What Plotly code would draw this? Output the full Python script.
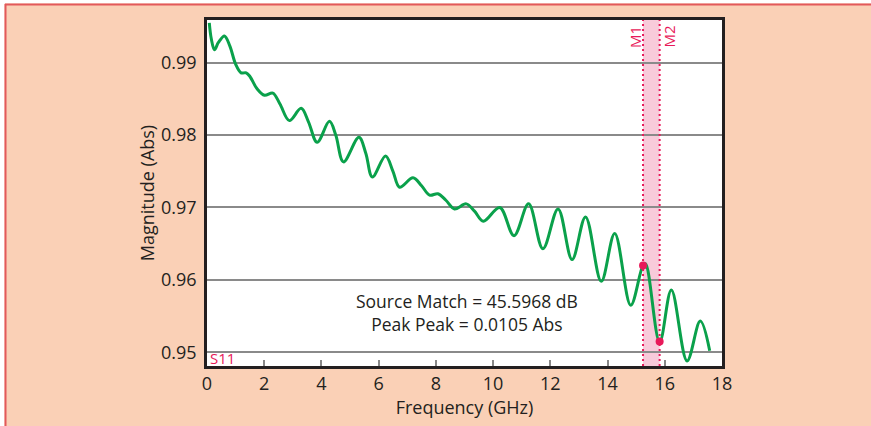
import plotly.graph_objects as go

# Data
freq_ghz = [0.08, 0.15, 0.26, 0.40, 0.61, 0.80, 1.00, 1.19, 1.37, 1.50, 1.75, 2.01, 2.30, 2.55,
            2.88, 3.29, 3.55, 3.85, 4.28, 4.50, 4.77, 5.31, 5.55, 5.78, 6.24, 6.50, 6.73, 7.20,
            7.50, 7.78, 8.07, 8.35, 8.65, 9.06, 9.35, 9.66, 10.23, 10.73, 11.24, 11.74, 12.27,
            12.76, 13.23, 13.78, 14.25, 14.81, 15.24, 15.33, 15.82, 16.23, 16.78, 17.24, 17.57]
magnitude = [0.9955, 0.9933, 0.9918, 0.9928, 0.9937, 0.9923, 0.9898, 0.9886, 0.9886, 0.9881,
             0.9864, 0.9855, 0.9858, 0.9843, 0.9820, 0.9837, 0.9818, 0.9790, 0.9819, 0.9800,
             0.9763, 0.9797, 0.9775, 0.9742, 0.9771, 0.9750, 0.9728, 0.9741, 0.9730, 0.9717,
             0.9719, 0.9710, 0.9698, 0.9705, 0.9695, 0.9681, 0.9700, 0.9661, 0.9705, 0.9643,
             0.9698, 0.9628, 0.9687, 0.9598, 0.9664, 0.9565, 0.9620, 0.9622, 0.9514, 0.9586,
             0.9488, 0.9543, 0.9502]

marker_names = ["M1", "M2"]
marker_freq = [15.24, 15.82]
marker_mag = [0.9620, 0.9515]

x_ticks = [0, 2, 4, 6, 8, 10, 12, 14, 16, 18]
y_ticks = [0.95, 0.96, 0.97, 0.98, 0.99]

PEACH = "#FAD0B6"
PINK = "#E8195A"
GREEN = "#0AA14B"
TXT = "#231F20"
FONT = "Open Sans"

fig = go.Figure()

fig.add_trace(go.Scatter(x=freq_ghz, y=magnitude, mode="lines",
                         line=dict(color=GREEN, width=3, shape="spline", smoothing=1.0),
                         hoverinfo="skip", showlegend=False))
fig.add_trace(go.Scatter(x=marker_freq, y=marker_mag, mode="markers",
                         marker=dict(color=PINK, size=8), showlegend=False))

shapes = []
# Marker band
shapes.append(dict(type="rect", xref="x", yref="paper", x0=marker_freq[0], x1=marker_freq[1],
                   y0=0, y1=1, fillcolor="#F8CADA", line=dict(width=0), layer="below"))
for f in marker_freq:
    shapes.append(dict(type="line", xref="x", yref="paper", x0=f, x1=f, y0=0, y1=1,
                       line=dict(color=PINK, width=2, dash="2px,3px"), layer="above"))

# Outer frame (white strip + red border) in paper coords
W, H = 871, 426
ml, mr, mt, mb = 207, 149, 20, 58
pw, ph = W - ml - mr, H - mt - mb
def px2x(px):
    return (px - ml) / pw
def py2y(py):
    return (H - mb - py) / ph
shapes.append(dict(type="rect", xref="paper", yref="paper", x0=px2x(-10), x1=px2x(4.5),
                   y0=py2y(440), y1=py2y(-10), fillcolor="white", line=dict(width=0), layer="above"))
shapes.append(dict(type="rect", xref="paper", yref="paper", x0=px2x(-10), x1=px2x(880),
                   y0=py2y(3.5), y1=py2y(-10), fillcolor="white", line=dict(width=0), layer="above"))
shapes.append(dict(type="line", xref="paper", yref="paper", x0=px2x(5.5), x1=px2x(5.5),
                   y0=py2y(440), y1=py2y(4), line=dict(color="#E2595B", width=2), layer="above"))
shapes.append(dict(type="line", xref="paper", yref="paper", x0=px2x(5), x1=px2x(880),
                   y0=py2y(4.5), y1=py2y(4.5), line=dict(color="#E2595B", width=2), layer="above"))

annotations = [
    dict(x=marker_freq[0], xref="x", y=py2y(37), yref="paper", text=marker_names[0],
         textangle=-90, showarrow=False, xanchor="center", yanchor="middle", xshift=-8,
         font=dict(family=FONT, size=15, color=PINK)),
    dict(x=marker_freq[1], xref="x", y=py2y(37), yref="paper", text=marker_names[1],
         textangle=-90, showarrow=False, xanchor="center", yanchor="middle", xshift=9,
         font=dict(family=FONT, size=15, color=PINK)),
    dict(x=0, xref="paper", y=py2y(360), yref="paper", text="S11", showarrow=False,
         xanchor="left", yanchor="middle", xshift=1,
         font=dict(family=FONT, size=15, color=PINK)),
    dict(x=9.09, xref="x", y=py2y(314.5), yref="paper",
         text="Source Match = 45.5968 dB<br>Peak Peak = 0.0105 Abs", showarrow=False,
         xanchor="center", yanchor="middle", align="center",
         font=dict(family=FONT, size=17.5, color=TXT)),
]

fig.update_layout(
    width=W, height=H,
    margin=dict(l=ml, r=mr, t=mt, b=mb),
    paper_bgcolor=PEACH, plot_bgcolor="white",
    font=dict(family=FONT, color=TXT),
    shapes=shapes, annotations=annotations,
    xaxis=dict(range=[0, 18], tickvals=x_ticks, ticks="inside", ticklen=6, tickwidth=1.5,
               tickcolor="#888888", showgrid=False, zeroline=False,
               showline=True, linecolor=TXT, linewidth=2.5, mirror=True,
               tickfont=dict(size=18, color=TXT),
               title=dict(text="Frequency (GHz)", font=dict(size=18, color=TXT), standoff=6)),
    yaxis=dict(range=[0.9481, 0.9959], tickvals=y_ticks, tickformat=".2f", ticks="",
               showgrid=True, gridcolor="#8A8A8A", gridwidth=1.5, zeroline=False,
               showline=True, linecolor=TXT, linewidth=2.5, mirror=True,
               tickfont=dict(size=18, color=TXT), ticklabelstandoff=4,
               title=dict(text="Magnitude (Abs)", font=dict(size=18, color=TXT), standoff=2)),
)

fig.write_html("out.html")
